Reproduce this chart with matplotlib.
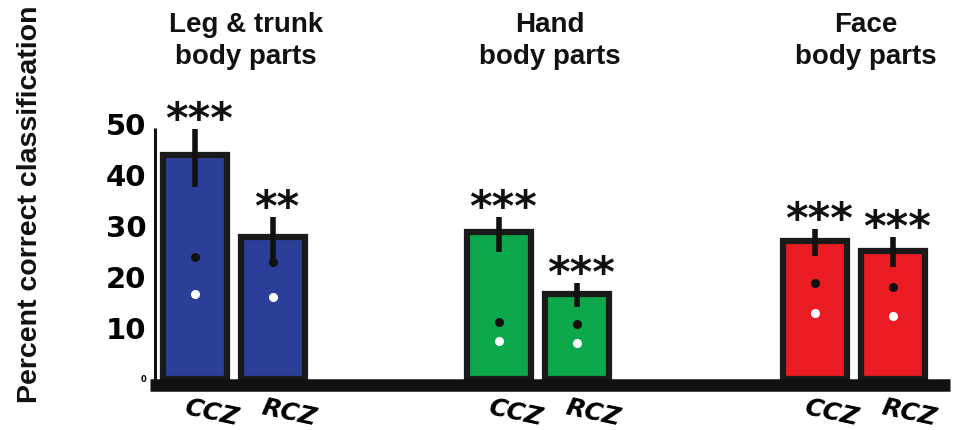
import numpy as np
import matplotlib
matplotlib.use("Agg")
import matplotlib.pyplot as plt
import matplotlib.transforms as mtransforms

# ── Data ──────────────────────────────────────────────────────────────────────
groups      = ["Leg & trunk\nbody parts", "Hand\nbody parts", "Face\nbody parts"]
conditions  = ["CCZ", "RCZ"]
accuracy    = [43.9, 27.8, 28.8, 16.7, 27.0, 25.1]      # bar heights (%)
err_low     = [37.6, 23.0, 24.9, 14.1, 24.1, 22.0]      # error bar bottom
err_high    = [49.0, 31.8, 31.8, 18.8, 29.4, 27.8]      # error bar top
chance_hi   = [24.0, 23.0, 11.2, 10.8, 18.8, 18.0]      # black dots
chance_lo   = [16.7, 16.0, 7.5, 7.0, 12.9, 12.4]        # white dots
stars       = ["***", "**", "***", "***", "***", "***"]
ytick_vals  = [0, 10, 20, 30, 40, 50]

# ── Layout / style ────────────────────────────────────────────────────────────
positions   = [0, 1, 3.9, 4.9, 7.95, 8.95]
bar_colors  = ["#2B3F99", "#2B3F99", "#0CA84B", "#0CA84B", "#EC1C24", "#EC1C24"]

fig = plt.figure(figsize=(9.57, 4.30), dpi=100)
ax = fig.add_axes([145 / 957, 35 / 430, 810 / 957, 277 / 430])
ax.set_xlim(-50 / 78, 760 / 78)
ax.set_ylim(-16 / 5.1, 261 / 5.1)
for s in ax.spines.values():
    s.set_visible(False)

ax.bar(positions, accuracy, width=0.82, color=bar_colors,
       edgecolor="#1a1a1a", linewidth=4.5, zorder=2)
ax.vlines(positions, err_low, err_high, color="#111111", linewidth=4, zorder=3)
ax.scatter(positions, chance_hi, s=30, color="#111111", zorder=4)
ax.scatter(positions, chance_lo, s=30, color="white", zorder=4)

# axes lines
ax.hlines(-1.08, -0.58, 9.68, color="#111111", linewidth=9, zorder=5)
ax.vlines(-0.513, -1, 49.3, color="#111111", linewidth=2.2, zorder=5)

for x, top, st in zip(positions, err_high, stars):
    ax.annotate(st, xy=(x, top), xytext=(3, -3), textcoords="offset points",
                ha="center", va="baseline", fontsize=31, fontweight="bold",
                family="DejaVu Sans", color="#111111")

# y ticks
ax.set_yticks(ytick_vals)
ax.set_yticklabels([str(v) for v in ytick_vals], fontsize=21,
                   fontweight="heavy", family="DejaVu Sans")
ax.tick_params(axis="y", length=0, pad=-1)
ax.get_yticklabels()[0].set_fontsize(6)

# x tick labels
ax.set_xticks(positions)
ax.set_xticklabels(conditions * 3, rotation=-12, ha="center", va="top",
                   fontsize=18, fontweight="bold", style="italic",
                   family="DejaVu Sans")
ax.tick_params(axis="x", length=0, pad=0)
shift = mtransforms.ScaledTranslation(16 / 100, 0, fig.dpi_scale_trans)
for lbl in ax.get_xticklabels():
    lbl.set_transform(lbl.get_transform() + shift)

# group titles
blend = mtransforms.blended_transform_factory(ax.transData, fig.transFigure)
for i, g in enumerate(groups):
    cx = (positions[2 * i] + positions[2 * i + 1]) / 2
    ax.text(cx + 0.15, 0.905, g, transform=blend, ha="center", va="center",
            fontsize=20, family="Liberation Sans", fontweight="bold",
            linespacing=1.3, color="#111111")

fig.text(30 / 957, 0.525, "Percent correct classification", rotation=90,
         ha="center", va="center", fontsize=20.5, fontweight="bold",
         family="Liberation Sans", color="#111111")

fig.savefig("out.png", dpi=100, facecolor="white")
